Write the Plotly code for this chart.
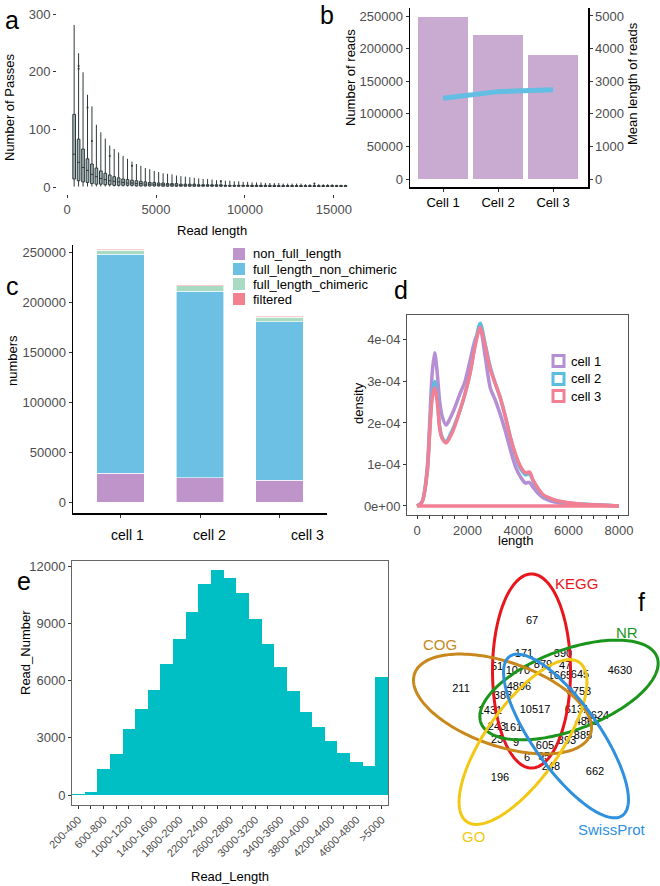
import numpy as np
import plotly.graph_objects as go

W, H = 660, 886
FONT = "Liberation Sans, Arial, sans-serif"
GRAY = "#4D4D4D"


def fx(p):
    return p / W


def fy(p):
    return 1 - p / H


# ---------------- data ----------------
# (a) Number of passes vs read length (box statistics per 250-bp bin)
a_bin_centers = list(range(400, 15900, 250))
a_upper = [281, 232, 199, 160, 140, 108, 95, 84, 72, 66,
           60, 54, 49, 44, 40, 37, 33, 31, 28, 26,
           24, 23, 22, 20, 19, 18, 17, 16, 15, 14,
           14, 13, 12, 12, 11, 11, 10, 10, 9, 9,
           8, 8, 8, 7, 7, 7, 7, 6, 6, 6,
           6, 6, 5, 5, 5, 5, 5, 5, 5, 4,
           4, 4]
a_q3 = [126, 83, 66, 49, 40, 33, 28, 24, 21, 18,
        16, 14, 13, 12, 11, 10, 9, 8, 8, 7,
        7, 6, 6, 6, 5, 5, 5, 5, 4, 4,
        4, 4, 4, 4, 3, 3, 3, 3, 3, 3,
        3, 3, 3, 3, 3, 3, 2.5, 2.5, 2.5, 2.5,
        2.5, 2.5, 2.5, 2.5, 2.5, 2.5, 2.5, 2.5, 2.5, 2.5,
        2.5, 2.5]
a_median = [57, 43, 34, 29, 22, 18, 15, 13, 11, 10,
            9, 8, 7, 7, 6, 6, 5, 5, 5, 4,
            4, 4, 4, 3, 3, 3, 3, 3, 3, 3,
            3, 2, 2, 2, 2, 2, 2, 2, 2, 2,
            2, 2, 2, 2, 2, 2, 2, 2, 2, 2,
            2, 2, 2, 2, 2, 2, 2, 2, 2, 2,
            2, 2]
a_q1 = [14, 11, 9, 8, 6, 5, 5, 4, 4, 3,
        3, 3, 3, 3, 2, 2, 2, 2, 2, 2,
        1.5, 1.5, 1.5, 1.5, 1.5, 1.5, 1.5, 1.5, 1.5, 1.5,
        1.5, 1.5, 1.5, 1.5, 1.5, 1.5, 1.5, 1.5, 1.5, 1.5,
        1, 1, 1, 1, 1, 1, 1, 1, 1, 1,
        1, 1, 1, 1, 1, 1, 1, 1, 1, 1,
        1, 1]
a_lower = [1] * 62
a_out_x = [400, 650, 650, 1150, 1400, 2400, 3650, 8650, 13900]
a_out_y = [315, 210, 205, 138, 80, 54, 37, 10, 6]

# (b) reads per cell and mean read length
b_cells = ["Cell 1", "Cell 2", "Cell 3"]
b_reads = [249000, 221500, 189800]
b_mean_len = [2480, 2680, 2740]

# (c) read classification per cell
c_cells = ["cell 1", "cell 2", "cell 3"]
c_non_full = [28700, 24300, 22000]
c_fl_nonchim = [219300, 186700, 158300]
c_fl_chim = [3700, 5300, 4400]
c_filtered = [1000, 900, 900]
c_series = ["non_full_length", "full_length_non_chimeric",
            "full_length_chimeric", "filtered"]

# (d) read-length density per cell (density values x 1e-4)
d_len = [0, 200, 400, 500, 600, 700, 800, 900, 1000, 1150, 1300, 1450,
         1700, 1900, 2100, 2300, 2500, 2700, 2900, 3100, 3300, 3500, 3700,
         3900, 4100, 4300, 4450, 4600, 4800, 5000, 5300, 5600, 6000, 6500,
         7000, 7500, 8000]
d_cell1 = [0, 0.1, 0.9, 2.0, 3.2, 3.69, 3.2, 2.5, 2.15, 1.95, 2.1, 2.3,
           2.7, 3.0, 3.5, 4.0, 4.25, 3.6, 2.85, 2.55, 2.2, 1.8, 1.35,
           0.95, 0.7, 0.55, 0.57, 0.45, 0.3, 0.2, 0.12, 0.08, 0.05, 0.03,
           0.02, 0.01, 0.0]
d_cell2 = [0, 0.1, 0.8, 1.8, 2.7, 3.0, 2.6, 1.9, 1.65, 1.55, 1.7, 1.9,
           2.3, 2.7, 3.2, 3.9, 4.4, 3.9, 3.35, 2.95, 2.6, 2.15, 1.65,
           1.2, 0.9, 0.75, 0.78, 0.6, 0.4, 0.25, 0.17, 0.11, 0.07, 0.05,
           0.03, 0.015, 0.0]
d_cell3 = [0, 0.1, 0.8, 1.75, 2.6, 2.85, 2.5, 1.85, 1.62, 1.52, 1.65, 1.85,
           2.3, 2.7, 3.2, 3.85, 4.3, 3.85, 3.3, 2.95, 2.6, 2.15, 1.65,
           1.25, 0.95, 0.8, 0.82, 0.62, 0.42, 0.27, 0.18, 0.12, 0.08, 0.05,
           0.03, 0.015, 0.0]
d_labels = ["cell 1", "cell 2", "cell 3"]

# (e) read length histogram
e_bins = ["200-400", "400-600", "600-800", "800-1000", "1000-1200",
          "1200-1400", "1400-1600", "1600-1800", "1800-2000", "2000-2200",
          "2200-2400", "2400-2600", "2600-2800", "2800-3000", "3000-3200",
          "3200-3400", "3400-3600", "3600-3800", "3800-4000", "4000-4200",
          "4200-4400", "4400-4600", "4600-4800", "4800-5000", ">5000"]
e_counts = [50, 140, 1362, 2131, 3459, 4489, 5502, 6865, 8157, 9572,
            11039, 11790, 11354, 10603, 9223, 7913, 6690, 5467, 4367, 3581,
            2846, 2201, 1745, 1536, 6184]

# (f) five-database annotation Venn diagram
venn_sets = ["KEGG", "NR", "COG", "GO", "SwissProt"]
venn_counts = ["67", "171", "390", "51", "1070", "879", "47", "1665", "645",
               "4630", "211", "4896", "383", "3753", "1431", "10517", "6131",
               "3624", "4865", "243", "161", "885", "23", "9", "605", "893",
               "6", "95", "248", "196", "662"]

# ---------------- layout helpers (pixel positions) ----------------
venn_pos_x = [532, 524, 563, 497, 518, 543, 565, 560, 580, 620, 461, 519,
              503, 579, 490, 535, 577, 597, 587, 497, 513, 583, 497, 516,
              545, 567, 527, 544, 551, 500, 595]
venn_pos_y = [621, 654, 654, 667, 671, 665, 666, 676, 675, 671, 689, 687,
              696, 692, 711, 710, 710, 716, 722, 727, 728, 736, 740, 743,
              746, 741, 758, 757, 767, 778, 772]
# ellipse geometry: cx, cy, semi-major, semi-minor, angle(deg, y-down)
venn_geom = {
    "KEGG": (531.5, 671, 97, 39, 90),
    "NR": (569, 690, 94, 40, -20.5),
    "COG": (502.5, 704, 93, 42, 19),
    "GO": (523, 742, 97.5, 37, -54.7),
    "SwissProt": (566, 736, 97.5, 33, 54.7),
}
venn_colors = {"KEGG": "#E8161C", "NR": "#1B951B", "COG": "#C8881C",
               "GO": "#F3C814", "SwissProt": "#2E90DF"}
venn_label_pos = {"KEGG": (576, 583), "NR": (627, 632), "COG": (440, 644),
                  "GO": (473, 836), "SwissProt": (612, 829)}

fig = go.Figure()

# ---- (a) ----
fig.add_trace(go.Box(
    x=a_bin_centers, q1=a_q1, median=a_median, q3=a_q3,
    lowerfence=a_lower, upperfence=a_upper, width=150, whiskerwidth=0,
    fillcolor="#9FB2B6", line=dict(color="#2E3838", width=1),
    boxpoints=False, xaxis="x", yaxis="y", showlegend=False,
    hoverinfo="skip"))
fig.add_trace(go.Scatter(
    x=a_out_x, y=a_out_y, mode="markers",
    marker=dict(size=2, color="#333333"), xaxis="x", yaxis="y",
    showlegend=False, hoverinfo="skip"))

# ---- (b) ----
fig.add_trace(go.Bar(x=b_cells, y=b_reads, marker_color="#C9AAD1",
                     marker_line_width=0, width=0.9, xaxis="x2", yaxis="y2",
                     showlegend=False, hoverinfo="skip"))
fig.add_trace(go.Scatter(x=b_cells, y=b_mean_len, mode="lines",
                         line=dict(color="#62BEE3", width=5),
                         xaxis="x2", yaxis="y3", showlegend=False,
                         hoverinfo="skip"))

# ---- (c) ----
c_colors = ["#BE94CA", "#6CC0E3", "#A9DBC2", "#F3808F"]
for name, vals, col in zip(c_series,
                           [c_non_full, c_fl_nonchim, c_fl_chim, c_filtered],
                           c_colors):
    fig.add_trace(go.Bar(x=c_cells, y=vals, name=name, marker_color=col,
                         marker_line=dict(color="white", width=0.6),
                         width=0.6, xaxis="x4", yaxis="y4", showlegend=False,
                         hoverinfo="skip"))

# ---- (d) ----
d_colors = ["#B68ED3", "#5CBDE2", "#F27F93"]
for lab, vals, col in zip(d_labels, [d_cell1, d_cell2, d_cell3], d_colors):
    fig.add_trace(go.Scatter(x=d_len, y=[v * 1e-4 for v in vals],
                             mode="lines", line=dict(color=col, width=3.5,
                                                     shape="spline",
                                                     smoothing=0.8),
                             name=lab, xaxis="x5", yaxis="y5",
                             showlegend=False, hoverinfo="skip"))
fig.add_trace(go.Scatter(x=[d_len[0], d_len[-1]], y=[0, 0], mode="lines",
                         line=dict(color=d_colors[2], width=3.5),
                         xaxis="x5", yaxis="y5", showlegend=False,
                         hoverinfo="skip"))

# ---- (e) ----
fig.add_trace(go.Bar(x=e_bins, y=e_counts, marker_color="#00BFC4",
                     marker_line_width=0, width=1.0, xaxis="x6", yaxis="y6",
                     showlegend=False, hoverinfo="skip"))

# ---- (f) ----
fig.add_trace(go.Scatter(x=venn_pos_x, y=venn_pos_y, text=venn_counts,
                         mode="text",
                         textfont=dict(family=FONT, size=11, color="black"),
                         xaxis="x7", yaxis="y7", showlegend=False,
                         hoverinfo="skip"))

shapes = []
t = np.linspace(0, 2 * np.pi, 181)
for s in venn_sets:
    cx, cy, a, b, ang = venn_geom[s]
    th = np.deg2rad(ang)
    xs = cx + a * np.cos(t) * np.cos(th) - b * np.sin(t) * np.sin(th)
    ys = cy + a * np.cos(t) * np.sin(th) + b * np.sin(t) * np.cos(th)
    path = "M " + " L ".join(f"{x:.2f},{y:.2f}" for x, y in zip(xs, ys)) + " Z"
    shapes.append(dict(type="path", path=path, xref="x7", yref="y7",
                       line=dict(color=venn_colors[s], width=3),
                       fillcolor="rgba(0,0,0,0)", layer="above"))

# legend (c)
c_leg_y = [254, 269, 284, 299]
for yy, col in zip(c_leg_y, c_colors):
    shapes.append(dict(type="rect", xref="paper", yref="paper",
                       x0=fx(233), x1=fx(245), y0=fy(yy + 6), y1=fy(yy - 6),
                       fillcolor=col, line=dict(width=0)))
# legend (d)
d_leg_y = [361, 379, 396]
for yy, col in zip(d_leg_y, d_colors):
    shapes.append(dict(type="rect", xref="paper", yref="paper",
                       x0=fx(553), x1=fx(564), y0=fy(yy + 5.5), y1=fy(yy - 5.5),
                       fillcolor="white", line=dict(color=col, width=3)))


def ann(text, x, y, size=13, color="black", angle=0, xanchor="center",
        yanchor="middle"):
    return dict(text=text, x=fx(x), y=fy(y), xref="paper", yref="paper",
                showarrow=False, textangle=angle, xanchor=xanchor,
                yanchor=yanchor, font=dict(family=FONT, size=size, color=color))


annotations = [
    ann("a", 12, 20, 25), ann("b", 327, 15, 25), ann("c", 13, 286, 25),
    ann("d", 401, 290, 25), ann("e", 24, 581, 25), ann("f", 641, 602, 25),
    ann("Number of Passes", 10, 108, 13, angle=-90),
    ann("Read length", 212, 230, 13),
    ann("Number of reads", 350, 78, 13, angle=-90),
    ann("Mean length of reads", 632, 84, 13, angle=-90),
    ann("numbers", 13, 360, 13, angle=-90),
    ann("density", 358, 403, 13, angle=-90),
    ann("length", 515, 540, 13),
    ann("Read_Number", 25, 653, 13, angle=-90),
    ann("Read_Length", 230, 876, 13),
]
for lab, xx in zip(c_cells, [127, 209, 307]):
    annotations.append(ann(lab, xx, 535, 14))
for lab, yy in zip(c_series, c_leg_y):
    annotations.append(ann(lab, 251, yy, 13, xanchor="left"))
for lab, yy in zip(d_labels, d_leg_y):
    annotations.append(ann(lab, 569, yy, 13, xanchor="left"))
for s in venn_sets:
    lx, ly = venn_label_pos[s]
    annotations.append(ann(s, lx, ly, 15, color=venn_colors[s]))

tickfont = dict(family=FONT, size=13, color=GRAY)
base = dict(showgrid=False, zeroline=False, ticks="outside", ticklen=3,
            tickcolor="#333333", tickfont=tickfont, automargin=False)

fig.update_layout(
    width=W, height=H, autosize=False,
    margin=dict(l=0, r=0, t=0, b=0, pad=0, autoexpand=False),
    paper_bgcolor="white", plot_bgcolor="rgba(0,0,0,0)",
    barmode="stack", showlegend=False, hovermode=False,
    font=dict(family=FONT, size=13, color="black"),
    shapes=shapes, annotations=annotations,
    # (a)
    xaxis=dict(base, domain=[fx(57), fx(350)], range=[-564, 15904],
               tickvals=[0, 5000, 10000, 15000], tickformat="d",
               showline=False, anchor="y"),
    yaxis=dict(base, domain=[fy(194), fy(10)], range=[-12, 307],
               tickvals=[0, 100, 200, 300], showline=False, anchor="x"),
    # (b)
    xaxis2=dict(base, domain=[fx(410), fx(588)], type="category",
                range=[-0.6, 2.636], showline=True, linecolor="black",
                linewidth=1.5, anchor="y2",
                tickfont=dict(family=FONT, size=13, color="black")),
    yaxis2=dict(base, domain=[fy(187), fy(8)], range=[-12270, 262270],
                tickvals=[0, 50000, 100000, 150000, 200000, 250000],
                tickformat="d", showline=True, linecolor="black",
                linewidth=1.5, anchor="x2"),
    yaxis3=dict(base, domain=[fy(187), fy(8)], range=[-245, 5245],
                tickvals=[0, 1000, 2000, 3000, 4000, 5000], tickformat="d",
                showline=True, linecolor="black", linewidth=1.5,
                overlaying="y2", side="right", anchor="x2"),
    # (c)
    xaxis4=dict(base, domain=[fx(73), fx(327)], type="category",
                range=[-0.6, 2.6], showline=True, linecolor="black",
                linewidth=1.5, showticklabels=False, anchor="y4"),
    yaxis4=dict(base, domain=[fy(513), fy(245)], range=[-11000, 257000],
                tickvals=[0, 50000, 100000, 150000, 200000, 250000],
                tickformat="d", showline=True, linecolor="black",
                linewidth=1.5, anchor="x4"),
    # (d)
    xaxis5=dict(base, domain=[fx(407), fx(628)], range=[-398, 8358],
                tickvals=[0, 2000, 4000, 6000, 8000], showline=True,
                mirror=True, linecolor="#555555", linewidth=1,
                minor=dict(tickvals=[500, 1000, 1500, 2500, 3000, 3500, 4500,
                                     5000, 5500, 6500, 7000, 7500],
                           ticks="outside", ticklen=3, tickcolor="#333333"),
                anchor="y5"),
    yaxis5=dict(base, domain=[fy(515), fy(315)], range=[-0.217e-4, 4.6e-4],
                tickvals=[0, 1e-4, 2e-4, 3e-4, 4e-4],
                ticktext=["0e+00", "1e-04", "2e-04", "3e-04", "4e-04"],
                showline=True, mirror=True, linecolor="#555555", linewidth=1,
                anchor="x5"),
    # (e)
    xaxis6=dict(base, domain=[fx(72), fx(388)], type="category",
                range=[-0.5, 24.5], tickangle=-45, tickmode="array",
                tickvals=e_bins,
                ticktext=[b if i % 2 == 0 else "" for i, b in enumerate(e_bins)],
                showline=True, mirror=True, linecolor="#666666", linewidth=1,
                tickfont=dict(family=FONT, size=11, color=GRAY), anchor="y6"),
    yaxis6=dict(base, domain=[fy(805), fy(561)], range=[-524, 12264],
                tickvals=[0, 3000, 6000, 9000, 12000], tickformat="d",
                showline=True, mirror=True, linecolor="#666666", linewidth=1,
                anchor="x6"),
    # (f)
    xaxis7=dict(domain=[fx(400), 1.0], range=[400, 660], visible=False,
                anchor="y7", automargin=False),
    yaxis7=dict(domain=[fy(860), fy(560)], range=[860, 560], visible=False,
                anchor="x7", automargin=False),
)

fig.write_html(
    "out.html",
    config={"displayModeBar": False, "staticPlot": True},
    post_script="document.body.style.margin='0px';"
                "document.body.style.padding='0px';"
                "document.body.style.overflow='hidden';",
)
